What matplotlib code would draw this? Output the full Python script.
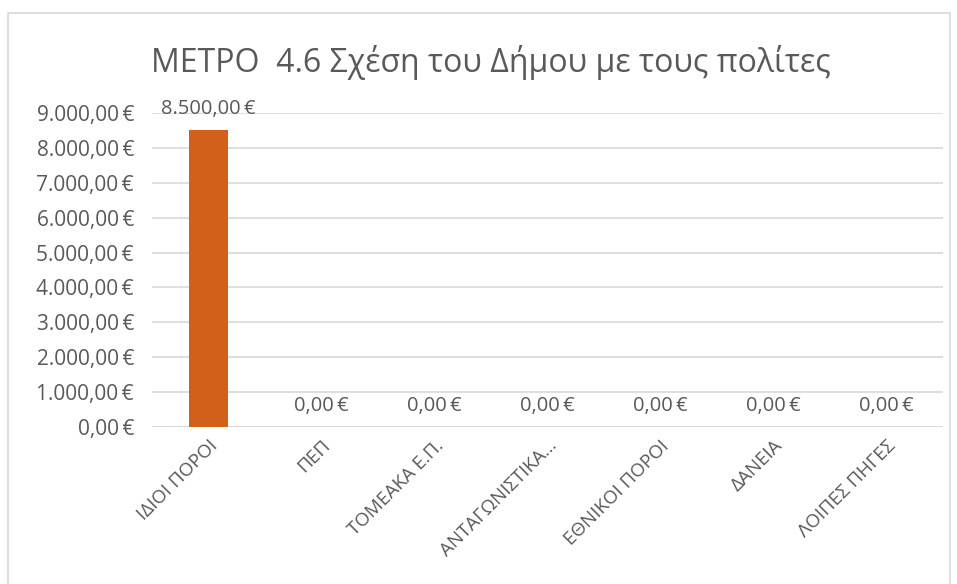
import numpy as np
import matplotlib.pyplot as plt
from matplotlib.patches import Rectangle

plt.rcParams['font.family'] = ['Open Sans', 'DejaVu Sans']

categories = ['ΙΔΙΟΙ ΠΟΡΟΙ', 'ΠΕΠ', 'ΤΟΜΕΑΚΑ Ε.Π.', 'ΑΝΤΑΓΩΝΙΣΤΙΚΑ...',
              'ΕΘΝΙΚΟΙ ΠΟΡΟΙ', 'ΔΑΝΕΙΑ', 'ΛΟΙΠΕΣ ΠΗΓΕΣ']
values = [8500.0, 0.0, 0.0, 0.0, 0.0, 0.0, 0.0]
yticks = np.arange(0, 9001, 1000)

txt = '#595959'
grid = '#d9d9d9'


def euro(v):
    s = '{:,.2f}'.format(v)
    s = s.replace(',', 'X').replace('.', ',').replace('X', '.')
    return s + '\u2009€'


fig = plt.figure(figsize=(9.57, 5.84), dpi=100)
# chart frame
fig.patches.append(Rectangle((8 / 957, -0.05), 942 / 957, 1.05 - 13 / 584,
                             transform=fig.transFigure, fill=False,
                             edgecolor='#d9d9d9', linewidth=1.2))

ax = fig.add_axes([152 / 957, 1 - 427 / 584, 791 / 957, 314 / 584])
x = np.arange(len(categories))
ax.bar(x, values, width=0.34, color='#d2601a', zorder=3)

for xi, v in zip(x, values):
    ax.annotate(euro(v), (xi, v), xytext=(0, 8), textcoords='offset points',
                ha='center', va='bottom', fontsize=14.5, color=txt)

ax.set_xlim(-0.5, len(categories) - 0.5)
ax.set_ylim(0, 9000)
ax.set_yticks(yticks)
ax.set_yticklabels([euro(v) for v in yticks], fontsize=15, color=txt)
ax.set_xticks(x)
ax.set_xticklabels(categories, rotation=45, ha='right', rotation_mode='anchor',
                   fontsize=13.5, color=txt)
ax.tick_params(axis='both', length=0)
ax.tick_params(axis='y', pad=13)
ax.tick_params(axis='x', pad=7)
ax.grid(axis='y', color=grid, linewidth=1.2, zorder=0)
for s in ax.spines.values():
    s.set_visible(False)
ax.axhline(0, color=grid, linewidth=1.2, zorder=1)

fig.text(491 / 957, 1 - 62 / 584, 'ΜΕΤΡΟ  4.6 Σχέση του Δήμου με τους πολίτες',
         ha='center', va='center', fontsize=23, color=txt)

fig.savefig('out.png', dpi=100)
